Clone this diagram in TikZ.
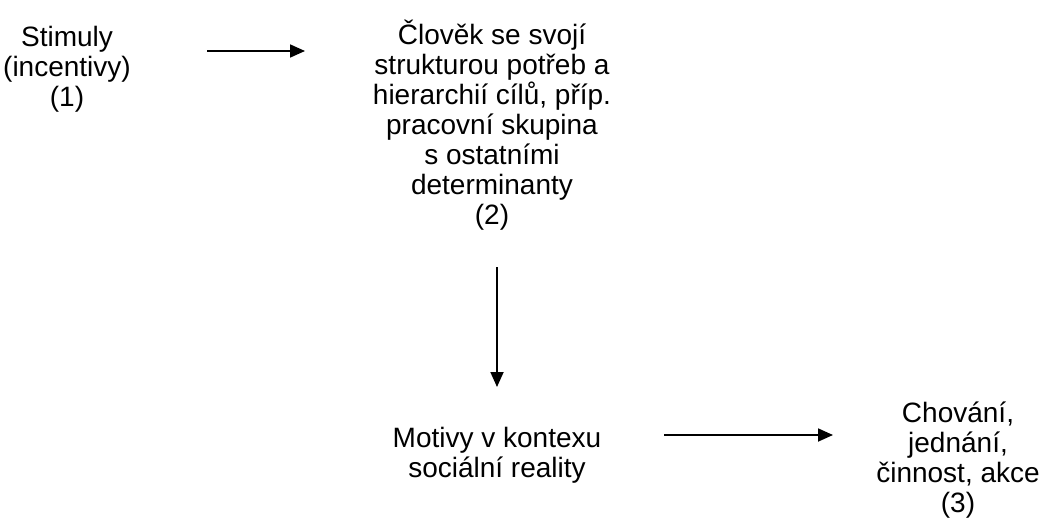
\documentclass[tikz,border=0pt]{standalone}
\usepackage{fontspec}
\setmainfont{Liberation Sans}
\usepackage{tikz}
\usetikzlibrary{positioning, arrows.meta}

\begin{document}
\begin{tikzpicture}[x=1pt,y=-1pt,
  txt/.style={align=center,inner sep=0pt,font=\fontsize{28}{30}\selectfont},
  flow/.style={-{Triangle[length=15pt,width=13pt]},line width=1.8pt}]
\useasboundingbox (0,0) rectangle (1051,530);
\node[txt] (stimuly) at (67,69) {Stimuly\\(incentivy)\\(1)};
\node[txt] (clovek) at (492,125) {Člověk se svojí\\strukturou potřeb a\\hierarchií cílů, příp.\\pracovní skupina\\s ostatními\\determinanty\\(2)};
\node[txt] (motivy) at (497,455) {Motivy v kontexu\\sociální reality};
\node[txt] (chovani) at (958,460) {Chování,\\jednání,\\činnost, akce\\(3)};
% arrow ends
\coordinate (a1s) at (207,51);
\coordinate (a1e) at (305,51);
\coordinate (a2s) at (497,267);
\coordinate (a2e) at (497,387);
\coordinate (a3s) at (664,435);
\coordinate (a3e) at (833,435);
\draw[flow] (a1s) -- (a1e);
\draw[flow] (a2s) -- (a2e);
\draw[flow] (a3s) -- (a3e);
\end{tikzpicture}
\end{document}
